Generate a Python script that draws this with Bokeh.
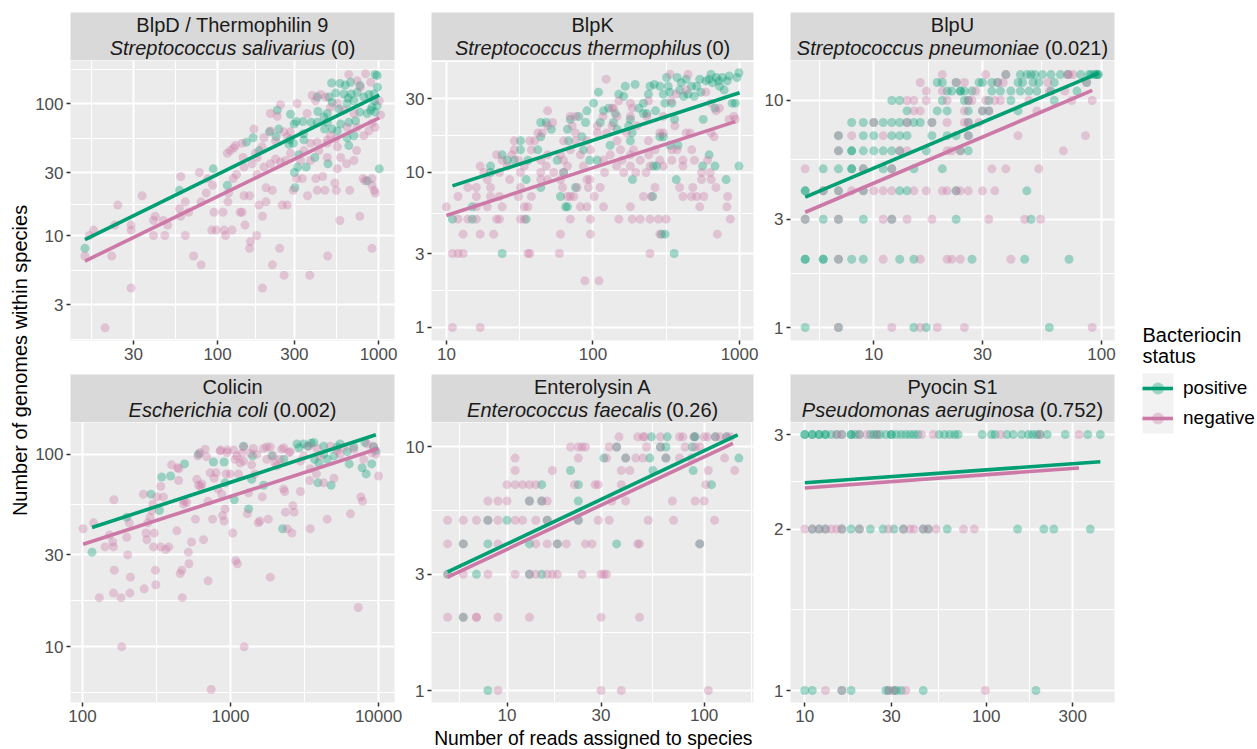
import math
from bokeh.plotting import figure
from bokeh.layouts import row, column
from bokeh.models import Range1d, FixedTicker, NumeralTickFormatter, Label, Legend, LegendItem
from bokeh.embed import file_html
from bokeh.resources import INLINE

GREEN = "#009E73"
PINK = "#CC79A7"
FONT = "Liberation Sans"

# ---------------- data ----------------
genes = ["BlpD / Thermophilin 9", "BlpK", "BlpU", "Colicin", "Enterolysin A", "Pyocin S1"]
species = ["Streptococcus salivarius", "Streptococcus thermophilus", "Streptococcus pneumoniae",
           "Escherichia coli", "Enterococcus faecalis", "Pseudomonas aeruginosa"]
pvals = ["(0)", "(0)", "(0.021)", "(0.002)", "(0.26)", "(0.752)"]

# BlpD / Thermophilin 9
blpd_pos_x = [15,94,58,115,151,166,181,235,231,284, 210,240,299,308,339,381,344,320,300,302,
              314,355,402,485,511,575,621,670,765,952, 980,985,935,871,676,647,541,492,416,420,
              480,515,568,637,703,765,850,910,954,980, 946,720,581,653,555,462,515,637,703,653,
              850,1010,480,416,341,278,295,281,609,736, 810,893,458]
blpd_pos_y = [8,32,22,24,51,55,44,89,56,83, 61,64,70,73,73,72,53,41,30,23,
              33,33,39,35,143,142,138,145,137,166, 163,133,118,117,118,110,120,112,112,87,
              84,102,91,100,105,86,84,94,86,96, 105,74,70,72,62,64,64,55,57,48,
              26,32,72,72,59,49,50,53,118,121, 112,89,79]
blpd_neg_x = [15,16,17,22,24,23,29,29,29,34, 20,40,41,40,46,47,49,58,59,59,
              63,63,66,71,79,77,79,85,93,87, 92,95,98,108,112,110,116,117,123,125,
              131,138,142,148,146,158,160,158,175,181, 190,190,200,200,219,219,243,252,259,271,
              295,310,336,362,374,407,416,449,465,483, 535,546,575,662,765,802,822,910,910,910,
              940,954,115,120,126,129,142,144,146,168, 194,213,235,246,258,271,312,360,387,406,
              436,469,503,503,555,581,633,703,730,810, 871,954,910,1030,1010,653,830,893,736,772,
              555,609,703,736,637,541,480,416,378,344, 328,284,264,246,229,213,194,176,164,229,
              284,213,189,172,176,426,480,555,480,378]
blpd_neg_y = [7,10,11,7,17,12,12,11,4,20, 2,10,14,13,13,10,12,16,28,14,
              18,10,15,7,6,30,18,21,24,27, 11,15,11,15,10,11,18,21,11,27,
              29,15,15,12,20,20,9,8,10,17, 14,4,23,18,6,22,8,17,5,17,
              22,27,27,20,5,27,22,28,22,7, 25,22,13,22,14,27,26,27,24,8,
              22,21,42,44,46,48,50,39,33,64, 55,84,80,98,61,56,100,84,115,105,
              117,112,94,57,47,39,35,37,44,57, 62,66,71,82,105,166,168,145,149,133,
              100,89,84,66,66,54,50,51,50,44, 37,42,37,36,38,35,33,39,35,52,
              61,62,47,42,29,44,39,32,53,37]
blpd_fit_pos_x = [15, 1010]
blpd_fit_pos_y = [9.3, 116]
blpd_fit_neg_x = [15, 1010]
blpd_fit_neg_y = [6.4, 78]

# BlpK
blpk_pos_x = [24,358,293,310,15,35,11,15,65,67, 60,255,76,44,186,370,810,35,20,63,
              20,36,258,560,680,990,24,32,42,44, 48,52,44,67,70,80,84,89,91,95,
              101,109,112,128,131,138,150,162,166,180, 185,194,205,221,233,239,245,262,267,286,
              302,318,326,335,345,360,375,400,415,432, 470,490,535,565,590,620,638,654,680,695,
              730,785,850,890,935,990,960,142,180,335, 380,272,302,57,32,286,310,390,445,510,
              545,620,720,763,824,221,175,118,146,68, 86,107,29,26]
blpk_pos_y = [3,3,4,4,5,5,5,6,6,6, 7,7,8,8,9,9,9,9,10,10,
              11,12,11,11,11,11,13,16,14,21, 21,19,17,19,22,23,17,21,25,12,
              28,33,21,26,15,21,32,31,36,22, 18,37,26,28,24,32,36,37,25,17,
              32,41,36,33,28,22,41,38,31,40, 36,31,40,22,39,13,43,38,26,41,
              36,34,42,28,28,44,41,24,16,15, 15,11,17,12,14,36,28,34,32,36,
              33,40,39,41,39,24,20,25,19,16, 14,12,12,12]
blpk_neg_x = [11,17, 88,110, 11,12,13,36,37,59,245, 13,17,21,60,96,286,706,
              12,14,16,22,23,32,34,70,96,150,185,210,245,280,315,865,
              10,16,19,24,34,36,82,91,118,180,535,820,
              12,16,20,23,31,38,67,70,74,102,221,250,411,470,510,570,830,
              14,16,20,32,62,78,93,112,265,390,480,690,
              19,27,44,49,60,91,95,550,640,
              18,23,32,44,54,63,120,162,196,230,550,630,
              17,26,34,48,67,86,145,180,245,302,411,
              24,31,44,63,118,158,210,345,411,492,605,286,
              22,28,49,60,82,131,180,240,
              29,38,70,96,154,189,265,375,472,345,
              29,37,40,63,76,91,146,239,
              670,
              42,45,76,107,124,170,286,432,638,460,302,
              49,72,107,135,199,362,
              53,
              850,935,
              70,146,180,233,302,915,76,117,
              49,690,
              138,185,730,135,
              180,638,
              150,239,340,
              370, 590, 432, 123,
              335,445]
blpk_neg_y = [1,1, 2,2, 3,3,3,3,3,3,3, 4,4,4,4,4,4,4,
              5,5,5,5,5,5,5,5,5,5,5,5,5,5,5,5,
              6,6,6,6,6,6,6,6,6,6,6,6,
              7,7,7,7,7,7,7,7,7,7,7,7,7,7,7,7,7,
              8,8,8,8,8,8,8,8,8,8,8,8,
              9,9,9,9,9,9,9,9,9,
              10,10,10,10,10,10,10,10,10,10,10,10,
              11,11,11,11,11,11,11,11,11,11,11,
              12,12,12,12,12,12,12,12,12,12,12,12,
              13,13,13,13,13,13,13,13,
              14,14,14,14,14,14,14,14,14,14,
              16,16,16,16,16,16,16,16,
              17,
              18,18,18,18,18,18,18,18,18,18,18,
              20,20,20,20,20,20,
              21,
              22,22,
              23,23,23,23,23,23,23,23,
              25,25,
              26,26,26,26,
              28,28,
              29,29,29,
              32, 33, 34, 40,
              43,43]
blpk_fit_pos_x = [11, 1000]
blpk_fit_pos_y = [8.2, 32.7]
blpk_fit_neg_x = [10, 935]
blpk_fit_neg_y = [5.28, 21.3]

# BlpU
blpu_pos_x = [5,7,15,17,59,
              5,5,6,6,7,8,9,13,15,27,46,72,
              5,6,7,9,12,23,49,
              5,5,6,7,9,13,14,23,47,
              6,7,8,8,9,11,12,15,20,
              7,8,8,9,10,11,12,13,17,24,26,
              7,9,10,12,13,14,18,21,23,26,
              8,9,10,11,12,13,14,15,16,18,26,
              14,19,21,26,30,32,43,
              12,13,20,25,26,32,40,62,
              21,22,24,24,25,27,33,36,40,44,48,52,60,78,
              19,20,23,29,30,33,35,43,45,50,53,62,86,
              38,44,47,49,51,55,60,66,71,81,88,90,93,95,96,97]
blpu_pos_y = [1,1,1,1,1,
              2,2,2,2,2,2,2,2,2,2,2,2,
              3,3,3,3,3,3,3,
              4,4,4,4,4,4,4,4,4,
              5,5,5,5,5,5,5,5,5,
              6,6,6,6,6,6,6,6,6,6,6,
              7,7,7,7,7,7,7,7,7,7,
              8,8,8,8,8,8,8,8,8,8,8,
              9,9,9,9,9,9,9,
              10,10,10,10,10,10,10,10,
              11,11,11,11,11,11,11,11,11,11,11,11,11,11,
              12,12,12,12,12,12,12,12,12,12,12,12,12,
              13,13,13,13,13,13,13,13,13,13,13,13,13,13,13,13]
blpu_neg_x = [7,12,16,19,25,91,
              7,11,16,21,22,24,40,
              5,7,11,12,14,18,32,46,54,
              6,7,8,9,10,11,12,15,17,20,21,23,24,26,30,34,
              5,9,12,33,38,53,
              7,13,14,21,22,24,68,
              7,8,11,26,43,85,
              10,14,18,21,25,26,29,
              15,16,25,30,32,52,
              14,15,17,21,26,27,31,34,36,48,74,91,
              17,20,28,59,69,
              16,23,25,35,37,58,86,
              20,31,38,71,72,75]
blpu_neg_y = [1,1,1,1,1,1,
              2,2,2,2,2,2,2,
              3,3,3,3,3,3,3,3,3,
              4,4,4,4,4,4,4,4,4,4,4,4,4,4,4,4,
              5,5,5,5,5,5,
              6,6,6,6,6,6,6,
              7,7,7,7,7,7,
              8,8,8,8,8,8,8,
              9,9,9,9,9,9,
              10,10,10,10,10,10,10,10,10,10,10,10,
              11,11,11,11,11,
              12,12,12,12,12,12,12,
              13,13,13,13,13,13]
blpu_fit_pos_x = [5, 97]
blpu_fit_pos_y = [3.75, 13.2]
blpu_fit_neg_x = [5, 91]
blpu_fit_neg_y = [3.22, 11.07]

# Colicin
colicin_pos_x = [116,199,290,331,343,394,489,608,767,905, 920,1060,1225,1325,1410,1390,1673,1900,2250,2286,
                 2814,2900,3120,3320,3500,3700,3900,3950,4264,4780, 5249,5500,6340,7750,8250,9000,9250,9600,8100,6800,
                 6150,5000,4500,3650,4264]
colicin_pos_y = [31,47,62,51,76,77,89,100,91,91, 71,58,110,52,98,74,69,98,41,94,
                 113,108,113,110,114,94,71,90,110,69, 109,113,89,85,79,89,109,104,115,109,
                 103,98,94,115,100]
colicin_neg_x = [101,119,130,142,152,160,162,163,164,184, 182,199,202,207,209,211,162,261,258,269,
                 272,276,286,294,299,302,305,311,313,318, 338,338,352,365,383,400,434,438,446,448,
                 457,469,472,481,486,506,519,524,545,580, 592,602,608,623,629,640,657,674,690,706,
                 706,729,757,774,800,822,860,873,883,905, 920,934,953,995,1035,1050,1086,1104,1115,1132,
                 1163,1192,1225,1300,1325,1390,1426,1465,1540,1580, 1640,1673,1760,1800,1856,1856,1950,2060,2160,2220,
                 2286,2320,2350,2420,2480,2600,2640,2690,2970,3120, 3380,3430,3460,3810,3843,4264,4500,5000,5249,5500,
                 6462,7300,7600,7800,7954,9000,10000,851,945,1074, 1225,1360,1508,1760,2000,2286,2536,2970,3464,4000,
                 4731,5824,6800,8400,9250,9600,740,1237]
colicin_neg_y = [41,44,18,33,38,35,33,58,25,10, 18,37,30,44,19,23,19,20,62,39,
                 36,44,47,51,55,33,39,25,21,60, 68,33,60,32,33,88,40,85,73,84,
                 24,25,18,55,57,56,31,27,35,46, 74,98,69,102,68,70,36,106,97,22,
                 57,80,46,75,80,66,105,62,48,45, 52,79,105,79,39,105,28,98,27,79,
                 90,101,109,49,63,88,107,79,44,45, 60,107,109,46,23,109,98,87,94,106,
                 66,64,50,41,102,39,54,50,64,98, 110,73,41,79,107,71,46,75,104,100,
                 49,16,60,57,94,102,77,104,102,94, 92,101,100,94,90,108,103,92,84,98,
                 110,109,106,113,110,100,6,10]
colicin_fit_pos_x = [116, 9600]
colicin_fit_pos_y = [41.6, 126]
colicin_fit_neg_x = [101, 10000]
colicin_fit_neg_y = [34.1, 107]

# Enterolysin A
entero_pos_x = [8, 6, 5,7,13,15, 6,8,13,18,36,95, 8,10,16,23, 13,15,23, 15,23,109, 21,55,88,
                31,40,53,64,150, 36,60,64,87, 54,65,89,90,114,130]
entero_pos_y = [1, 2, 3,3,3,3, 4,4,4,4,4,4, 5,5,5,5, 6,6,6, 7,7,7, 8,8,8,
                9,9,9,9,9, 10,10,10,10, 11,11,11,11,11,11]
entero_neg_x = [9,30,38,105,
                5,6,7,7,9,13,30,47,
                5,6,8,11,13,14,16,17,18,24,30,31,32,
                5,6,9,14,16,18,20,25,27,46,47,95,
                5,6,7,8,9,11,12,14,16,23,29,33,52,70,113,
                8,9,10,13,15,16,34,40,69,90,100,
                10,11,12,13,14,22,28,29,38,102,
                11,17,38,42,105,143,
                11,23,32,40,45,49,64,75,86,127,
                21,23,24,25,33,36,51,60,80,90,95,
                37,46,49,50,60,75,78,89,100,104,114,120,130,136]
entero_neg_y = [1,1,1,1,
                2,2,2,2,2,2,2,2,
                3,3,3,3,3,3,3,3,3,3,3,3,3,
                4,4,4,4,4,4,4,4,4,4,4,4,
                5,5,5,5,5,5,5,5,5,5,5,5,5,5,5,
                6,6,6,6,6,6,6,6,6,6,6,
                7,7,7,7,7,7,7,7,7,7,
                8,8,8,8,8,8,
                9,9,9,9,9,9,9,9,9,9,
                10,10,10,10,10,10,10,10,10,10,10,
                11,11,11,11,11,11,11,11,11,11,11,11,11,11]
entero_fit_pos_x = [5, 148]
entero_fit_pos_y = [3.07, 11.2]
entero_fit_neg_x = [5, 140]
entero_fit_neg_y = [2.92, 10.35]

# Pyocin S1
pyocin_pos_x = [10,10,11,11,12,12,13,13,14,15, 16,18,18,19,20,23,24,25,26,28,
                30,30,32,34,36,38,40,42,55,59, 63,67,70,95,107,112,130,141,157,171,
                180,190,198,217,273,363,426,
                11,12,13,16,18,20,23,27,31,35,45,48,61,149,208,236,375,
                10,11,16,18,28,29,31,32,34,45,188]
pyocin_pos_y = [3,3,3,3,3,3,3,3,3,3, 3,3,3,3,3,3,3,3,3,3,
                3,3,3,3,3,3,3,3,3,3, 3,3,3,3,3,3,3,3,3,3,
                3,3,3,3,3,3,3,
                2,2,2,2,2,2,2,2,2,2,2,2,2,2,2,2,2,
                1,1,1,1,1,1,1,1,1,1,1]
pyocin_neg_x = [15,16,20,22,25,44,51,120,198,325,
                10,11,12,13,14,15,16,20,29,35,38,40,45,48,53,75,86,
                13,16,29,31,36,99]
pyocin_neg_y = [3,3,3,3,3,3,3,3,3,3,
                2,2,2,2,2,2,2,2,2,2,2,2,2,2,2,2,2,
                1,1,1,1,1,1]
pyocin_fit_pos_x = [10, 426]
pyocin_fit_pos_y = [2.44, 2.67]
pyocin_fit_neg_x = [10, 325]
pyocin_fit_neg_y = [2.386, 2.60]

# axis ranges and breaks (ggplot-style log breaks)
x_ranges = [(12.2, 1256), (7.91, 1245), (4.31, 114), (83, 12823), (4.14, 178), (8.34, 510)]
y_ranges = [(1.603, 211.8), (0.824, 52.8), (0.877, 15.0), (5.14, 146), (0.893, 12.6), (0.950, 3.16)]
x_breaks = [[30, 100, 300, 1000], [10, 100, 1000], [10, 30, 100], [100, 1000, 10000], [10, 30, 100], [10, 30, 100, 300]]
x_minor = [[16.43, 54.77, 173.2, 547.7], [31.62, 316.2], [5.774, 17.32, 54.77], [316.2, 3162],
           [5.774, 17.32, 54.77, 173.2], [17.32, 54.77, 173.2]]
y_breaks = [[3, 10, 30, 100], [1, 3, 10, 30], [1, 3, 10], [10, 30, 100], [1, 3, 10], [1, 2, 3]]
y_minor = [[1.643, 5.477, 17.32, 54.77, 182.6], [1.732, 5.477, 17.32, 51.96], [1.732, 5.477],
           [5.774, 17.32, 54.77], [1.732, 5.477], [1.414, 2.449]]

series = [
    (blpd_pos_x, blpd_pos_y, blpd_neg_x, blpd_neg_y, blpd_fit_pos_x, blpd_fit_pos_y, blpd_fit_neg_x, blpd_fit_neg_y),
    (blpk_pos_x, blpk_pos_y, blpk_neg_x, blpk_neg_y, blpk_fit_pos_x, blpk_fit_pos_y, blpk_fit_neg_x, blpk_fit_neg_y),
    (blpu_pos_x, blpu_pos_y, blpu_neg_x, blpu_neg_y, blpu_fit_pos_x, blpu_fit_pos_y, blpu_fit_neg_x, blpu_fit_neg_y),
    (colicin_pos_x, colicin_pos_y, colicin_neg_x, colicin_neg_y, colicin_fit_pos_x, colicin_fit_pos_y, colicin_fit_neg_x, colicin_fit_neg_y),
    (entero_pos_x, entero_pos_y, entero_neg_x, entero_neg_y, entero_fit_pos_x, entero_fit_pos_y, entero_fit_neg_x, entero_fit_neg_y),
    (pyocin_pos_x, pyocin_pos_y, pyocin_neg_x, pyocin_neg_y, pyocin_fit_pos_x, pyocin_fit_pos_y, pyocin_fit_neg_x, pyocin_fit_neg_y),
]
for s in series:
    assert len(s[0]) == len(s[1]) and len(s[2]) == len(s[3]), [len(a) for a in s]

# ---------------- layout ----------------
TOTAL_H = 749
FRAME_W = 324
FRAME_H = 280
STRIP_H = 48
COL_W = [370, 357, 359]
COL_L = [38, 27, 31]
COL_R = [8, 6, 4]
YLAB_W = 32
LEG_W = 139
MID = 0.3465   # em offset between text middle and alphabetic baseline

ARIAL = {' ': 278, '(': 333, ')': 333, '.': 278, '/': 278,
         'A': 667, 'B': 667, 'C': 722, 'D': 722, 'E': 667, 'K': 667, 'P': 667, 'S': 667, 'T': 611, 'U': 722,
         'N': 722,
         'a': 556, 'b': 556, 'c': 500, 'd': 556, 'e': 556, 'f': 278, 'g': 556, 'h': 556, 'i': 222, 'j': 222,
         'k': 500, 'l': 222, 'm': 833, 'n': 556, 'o': 556, 'p': 556, 'q': 556, 'r': 333, 's': 500, 't': 278,
         'u': 556, 'v': 500, 'w': 722, 'x': 500, 'y': 500, 'z': 500}


def text_w(s, size):
    return sum(ARIAL.get(c, 556) for c in s) * size / 1000.0


def lab(x, y, text, size=20, color="black", style="normal", **kw):
    # always left-aligned: the start position is computed here from font metrics
    return Label(x=x, y=y, text=text, text_align="left", text_baseline="middle",
                 text_font=FONT, text_font_size="%gpx" % size, text_font_style=style,
                 text_color=color, **kw)


def make_strip(ci, top_border, k):
    s = figure(width=COL_W[ci], height=STRIP_H + top_border,
               x_range=Range1d(0, FRAME_W), y_range=Range1d(0, STRIP_H),
               x_axis_type=None, y_axis_type=None,
               min_border_left=COL_L[ci], min_border_right=COL_R[ci],
               min_border_top=top_border, min_border_bottom=0,
               toolbar_location=None, output_backend="svg",
               background_fill_color="#D9D9D9", border_fill_color="white", outline_line_color=None)
    fs = 20
    b1, b2 = 19.3, 42.3          # baselines, px below the strip top
    y1 = STRIP_H - (b1 - MID * fs)
    y2 = STRIP_H - (b2 - MID * fs)
    s.add_layout(lab(FRAME_W / 2 - text_w(genes[k], fs) / 2, y1, genes[k], fs, "#1A1A1A"))
    w_sp = text_w(species[k], fs)
    w_gap = text_w(" ", fs)
    w_p = text_w(pvals[k], fs)
    start = FRAME_W / 2 - (w_sp + w_gap + w_p) / 2
    s.add_layout(lab(start, y2, species[k], fs, "#1A1A1A", "italic"))
    s.add_layout(lab(start + w_sp + w_gap, y2, pvals[k], fs, "#1A1A1A"))
    return s


def make_panel(ci, bottom_border, k, xstandoff=3):
    px, py, nx, ny, fpx, fpy, fnx, fny = series[k]
    p = figure(width=COL_W[ci], height=FRAME_H + bottom_border,
               x_axis_type="log", y_axis_type="log",
               x_range=Range1d(*x_ranges[k]), y_range=Range1d(*y_ranges[k]),
               min_border_left=COL_L[ci], min_border_right=COL_R[ci],
               min_border_top=0, min_border_bottom=bottom_border,
               toolbar_location=None, output_backend="svg",
               background_fill_color="#EBEBEB", border_fill_color="white", outline_line_color=None)
    xt = FixedTicker(ticks=x_breaks[k], minor_ticks=x_minor[k])
    yt = FixedTicker(ticks=y_breaks[k], minor_ticks=y_minor[k])
    p.xaxis.ticker = xt
    p.xgrid.ticker = xt
    p.yaxis.ticker = yt
    p.ygrid.ticker = yt
    p.xaxis.formatter = NumeralTickFormatter(format="0")
    p.yaxis.formatter = NumeralTickFormatter(format="0")
    p.grid.grid_line_color = "white"
    p.grid.grid_line_width = 2
    p.grid.minor_grid_line_color = "white"
    p.grid.minor_grid_line_width = 1
    p.axis.axis_line_color = None
    p.axis.major_tick_line_color = "#333333"
    p.axis.major_tick_line_width = 1.5
    p.axis.major_tick_out = 4
    p.axis.major_tick_in = 0
    p.axis.minor_tick_line_color = None
    p.axis.major_label_text_font = FONT
    p.axis.major_label_text_font_size = "17px"
    p.axis.major_label_text_color = "#4D4D4D"
    p.xaxis.major_label_standoff = xstandoff
    p.yaxis.major_label_standoff = 3

    p.scatter(px, py, size=9, fill_color=GREEN, fill_alpha=0.35, line_color=None)
    p.scatter(nx, ny, size=9, fill_color=PINK, fill_alpha=0.35, line_color=None)
    p.line(fnx, fny, line_color=PINK, line_width=3.6)
    p.line(fpx, fpy, line_color=GREEN, line_width=3.6)
    return p


def blank(w, h):
    return figure(width=w, height=h, x_range=Range1d(0, w), y_range=Range1d(0, h),
                  x_axis_type=None, y_axis_type=None, min_border=0,
                  toolbar_location=None, output_backend="svg",
                  background_fill_color="white", border_fill_color="white", outline_line_color=None)


XT_H = 22    # height of the x-axis-title strip under the middle column
XT_FS = 19.3
XTITLE = "Number of reads assigned to species"
YTITLE = "Number of genomes within species"
cols = []
for ci in range(3):
    top_k = ci
    bot_k = ci + 3
    s_top = make_strip(ci, 12, top_k)
    p_top = make_panel(ci, 34, top_k)
    s_bot = make_strip(ci, 0, bot_k)
    if ci == 1:
        p_bot = make_panel(ci, 47 - XT_H, bot_k, xstandoff=2)
        # its frame lines up with the panel frames of this column (324 px wide)
        xt_fig = figure(width=COL_W[ci], height=XT_H,
                        x_range=Range1d(0, FRAME_W), y_range=Range1d(0, XT_H),
                        x_axis_type=None, y_axis_type=None,
                        min_border_left=COL_L[ci], min_border_right=COL_R[ci],
                        min_border_top=0, min_border_bottom=0,
                        toolbar_location=None, output_backend="svg",
                        background_fill_color="white", border_fill_color="white",
                        outline_line_color=None)
        xt_fig.add_layout(lab(FRAME_W / 2 - text_w(XTITLE, XT_FS) / 2, XT_H / 2, XTITLE, XT_FS))
        cols.append(column(s_top, p_top, s_bot, p_bot, xt_fig))
    else:
        p_bot = make_panel(ci, 47, bot_k)
        cols.append(column(s_top, p_top, s_bot, p_bot))

ylab = blank(YLAB_W, TOTAL_H)
ylab.add_layout(lab(19.5, (TOTAL_H - 360) - text_w(YTITLE, 20) / 2, YTITLE, 20,
                    angle=math.pi / 2))

lg = blank(LEG_W, TOTAL_H)
KX = 24
KEY_BOTTOM = TOTAL_H - 433
lg.quad(left=[KX], right=[KX + 31], bottom=[KEY_BOTTOM], top=[KEY_BOTTOM + 60],
        fill_color="#F2F2F2", line_color=None)
lg.add_layout(lab(KX, TOTAL_H - 334, "Bacteriocin", 20))
lg.add_layout(lab(KX, TOTAL_H - 355, "status", 20))
rl_pos = lg.line([-100, -90], [-100, -90], line_color=GREEN, line_width=3.6)
rs_pos = lg.scatter([-100], [-100], size=9, fill_color=GREEN, fill_alpha=0.35, line_color=None)
rl_neg = lg.line([-100, -90], [-100, -90], line_color=PINK, line_width=3.6)
rs_neg = lg.scatter([-100], [-100], size=9, fill_color=PINK, fill_alpha=0.35, line_color=None)
legend = Legend(items=[LegendItem(label="positive", renderers=[rl_pos, rs_pos]),
                       LegendItem(label="negative", renderers=[rl_neg, rs_neg])],
                location=(KX, KEY_BOTTOM), orientation="vertical",
                glyph_width=31, glyph_height=30, label_height=30, label_standoff=10,
                padding=0, margin=0, spacing=0,
                label_text_font=FONT, label_text_font_size="19px", label_text_color="black",
                border_line_color=None, background_fill_alpha=0)
lg.add_layout(legend)

layout = row(ylab, cols[0], cols[1], cols[2], lg)
open("out.html", "w").write(file_html(layout, INLINE, title="Bacteriocin"))
